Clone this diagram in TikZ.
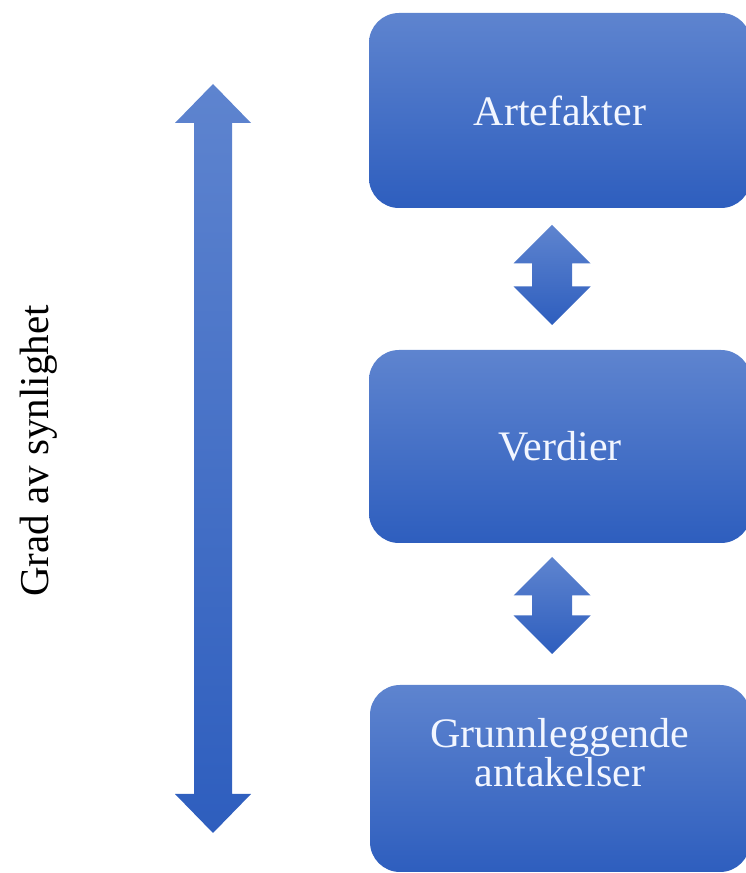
\documentclass[tikz,border=0pt]{standalone}
\usepackage{fontspec}
\setmainfont{Liberation Serif}
\usetikzlibrary{calc}

\definecolor{shadetop}{RGB}{94,132,207}
\definecolor{shadebot}{RGB}{46,94,190}
\definecolor{labeltext}{RGB}{242,246,255}

% Double-headed block arrow between two tip coordinates:
% #1 top tip, #2 bottom tip, #3 head length, #4 half head width, #5 half shaft width
\newcommand\vblockarrow[5]{%
  (#1) -- ($(#1)+(#4,-#3)$) -- ($(#1)+(#5,-#3)$) -- ($(#2)+(#5,#3)$)
  -- ($(#2)+(#4,#3)$) -- (#2) -- ($(#2)+(-#4,#3)$) -- ($(#2)+(-#5,#3)$)
  -- ($(#1)+(-#5,-#3)$) -- ($(#1)+(-#4,-#3)$) -- cycle}

\begin{document}
\begin{tikzpicture}[x=1pt,y=1pt,
  levelbox/.style={rounded corners=30pt, top color=shadetop, bottom color=shadebot,
    draw=none, inner sep=0pt, minimum width=382pt, text=labeltext,
    font=\fontsize{42}{35}\selectfont, align=center},
  boxlabel/.style={text=labeltext, font=\fontsize{42}{35}\selectfont, align=center},
  blockarrow/.style={top color=shadetop, bottom color=shadebot, draw=none},
  sidelabel/.style={font=\fontsize{41}{36}\selectfont, text=black, rotate=90}]

\useasboundingbox (0,0) rectangle (746,873);

% the three levels
\node[levelbox, minimum height=195pt] (art) at (560,762.5) {Artefakter};
\node[levelbox, minimum height=193pt] (verd) at (560,426.5) {Verdier};
\node[levelbox, minimum height=187pt, minimum width=380pt] (grunn) at (560,94.5) {};
\node[boxlabel] (grunntxt) at (560,120) {Grunnleggende\\antakelser};

% arrows between the levels
\coordinate (a1t) at (552,648);
\coordinate (a1b) at (552,548);
\coordinate (a2t) at (552,316);
\coordinate (a2b) at (552,219);
\path[blockarrow] \vblockarrow{a1t}{a1b}{38.5}{38.5}{20};
\path[blockarrow] \vblockarrow{a2t}{a2b}{38.5}{38.5}{20};

% visibility axis
\coordinate (axtop) at (213,789);
\coordinate (axbot) at (213,40);
\path[blockarrow] \vblockarrow{axtop}{axbot}{39}{38}{19};
\node[sidelabel] (axlabel) at (39,422) {Grad av synlighet};

\end{tikzpicture}
\end{document}
